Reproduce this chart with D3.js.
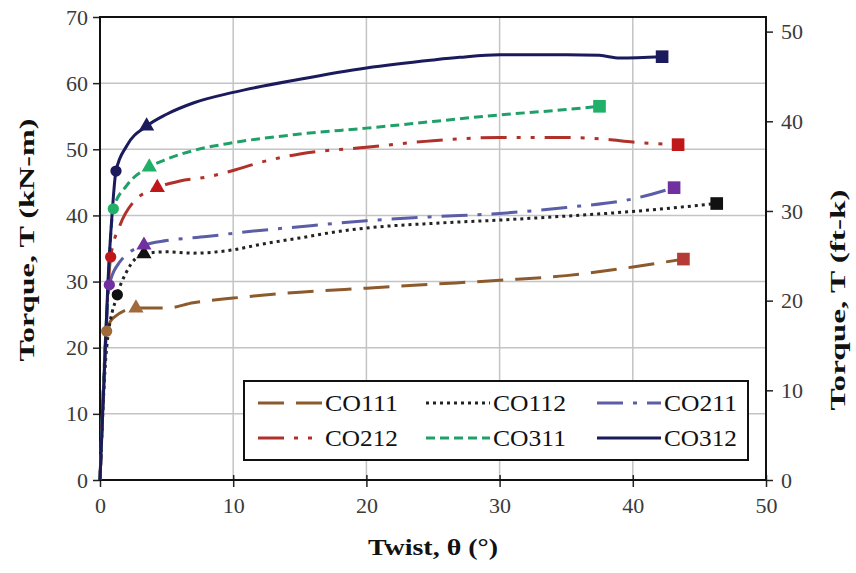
<!DOCTYPE html>
<html>
<head>
<meta charset="utf-8">
<script src="https://cdn.jsdelivr.net/npm/d3@7"></script>
<style>
  body { margin: 0; background: #fff; }
  svg { display: block; }
</style>
</head>
<body>
<svg id="chart" width="856" height="573"></svg>
<script>
// Values.
const names = ["CO111", "CO112", "CO211", "CO212", "CO311", "CO312"];

const twist111 = [0, 0.3, 0.5, 1, 2.7, 5, 7, 10, 15, 20, 25, 30, 35, 40, 43.8];
const torque111 = [0, 15, 22.5, 24.5, 26, 26, 26.8, 27.5, 28.4, 29, 29.6, 30.2, 30.9, 32.2, 33.4];

const twist112 = [0, 0.5, 1.3, 2, 3.3, 5, 7, 10, 12, 15, 18, 20, 25, 30, 35, 40, 46.3];
const torque112 = [0, 20, 28, 31.5, 34.2, 34.5, 34.3, 34.8, 35.6, 36.6, 37.6, 38.1, 38.8, 39.3, 39.9, 40.6, 41.8];

const twist211 = [0, 0.4, 0.7, 1.5, 3.3, 5, 8, 10, 15, 20, 25, 30, 35, 40, 43.1];
const torque211 = [0, 20, 29.5, 33, 35.5, 36.2, 36.8, 37.3, 38.3, 39.2, 39.8, 40.3, 41.2, 42.5, 44.2];

const twist212 = [0, 0.5, 0.8, 1.5, 2.5, 4.3, 6, 8, 10, 12, 15, 20, 25, 30, 35, 38, 40, 43.4];
const torque212 = [0, 25, 33.7, 38.5, 42, 44.2, 45.2, 45.8, 46.8, 48, 49.3, 50.3, 51.3, 51.8, 51.8, 51.5, 51.1, 50.7];

const twist311 = [0, 0.5, 1, 2, 3.7, 5, 7, 10, 15, 20, 25, 30, 35, 37.5];
const torque311 = [0, 25, 41, 44.5, 47.3, 48.5, 49.8, 51, 52.3, 53.2, 54.2, 55.2, 56, 56.5];

const twist312 = [0, 0.3, 0.6, 0.9, 1.2, 2, 3.5, 5, 7, 10, 15, 20, 25, 27, 30, 35, 37.5, 39, 42.2];
const torque312 = [0, 15, 30, 40, 46.7, 50.5, 53.5, 55.3, 57, 58.6, 60.6, 62.3, 63.5, 63.9, 64.3, 64.3, 64.2, 63.8, 64];

// index of the circle and triangle markers in each series (square is the last point)
const circleIdx = [2, 2, 2, 2, 2, 4];
const triangleIdx = [4, 4, 4, 5, 4, 6];

const xTicks = [0, 10, 20, 30, 40, 50];
const yTicks = [0, 10, 20, 30, 40, 50, 60, 70];
const yRightTicks = [0, 10, 20, 30, 40, 50];
const kNmToFtk = 0.737562;

// Styles
const lineColors = ["#8c5a2c", "#222222", "#5b5ea6", "#b0302a", "#20a068", "#1a1a5c"];
const markerColors = ["#a06a3a", "#111111", "#7030a0", "#c01818", "#20b068", "#1a1a5c"];
const squareColors = ["#b53c36", "#111111", "#7030a0", "#c01818", "#20b068", "#1a1a5c"];
const dashes = ["26,12", "3,4", "26,10,4,10", "26,10,4,10,4,10", "9,5", null];

const series = [
  [twist111, torque111], [twist112, torque112], [twist211, torque211],
  [twist212, torque212], [twist311, torque311], [twist312, torque312]
].map((s, i) => ({
  name: names[i],
  points: s[0].map((t, j) => [t, s[1][j]]),
  color: lineColors[i],
  marker: markerColors[i],
  square: squareColors[i],
  dash: dashes[i],
  ci: circleIdx[i],
  ti: triangleIdx[i]
}));

const svg = d3.select("#chart");
const plotLeft = 100, plotRight = 766, plotTop = 17, plotBottom = 480;

const x = d3.scaleLinear().domain([0, 50]).range([plotLeft, plotRight]);
const y = d3.scaleLinear().domain([0, 70]).range([plotBottom, plotTop]);
const yR = d3.scaleLinear().domain([0, 70 * kNmToFtk]).range([plotBottom, plotTop]);

const serif = "'Liberation Serif', 'Times New Roman', serif";

// Gridlines
svg.append("g")
  .selectAll("line")
  .data(yTicks)
  .join("line")
  .attr("x1", plotLeft).attr("x2", plotRight)
  .attr("y1", d => y(d)).attr("y2", d => y(d))
  .attr("stroke", "#c4c4c4").attr("stroke-width", 1.5);

svg.append("g")
  .selectAll("line")
  .data(xTicks.slice(1, -1))
  .join("line")
  .attr("x1", d => x(d)).attr("x2", d => x(d))
  .attr("y1", plotTop).attr("y2", plotBottom)
  .attr("stroke", "#c4c4c4").attr("stroke-width", 1.5);

// Axes
const xAxis = svg.append("g")
  .attr("transform", `translate(0,${plotBottom})`)
  .call(d3.axisBottom(x).tickValues(xTicks).tickSize(7).tickPadding(10));
const yAxis = svg.append("g")
  .attr("transform", `translate(${plotLeft},0)`)
  .call(d3.axisLeft(y).tickValues(yTicks).tickSize(7).tickPadding(5));
const yAxisR = svg.append("g")
  .attr("transform", `translate(${plotRight},0)`)
  .call(d3.axisRight(yR).tickValues(yRightTicks).tickSize(7).tickPadding(8));

[xAxis, yAxis, yAxisR].forEach(g => {
  g.select(".domain").remove();
  g.selectAll(".tick line").attr("stroke", "#222").attr("stroke-width", 1.5);
  g.selectAll(".tick text")
    .attr("font-family", serif)
    .attr("font-size", 22)
    .attr("fill", "#3a3a3a");
});
// x ticks cross the axis a little
xAxis.selectAll(".tick line").attr("y1", -5);

// Plot frame
svg.append("rect")
  .attr("x", plotLeft).attr("y", plotTop)
  .attr("width", plotRight - plotLeft).attr("height", plotBottom - plotTop)
  .attr("fill", "none").attr("stroke", "#111").attr("stroke-width", 2);

// Lines
const line = d3.line()
  .x(d => x(d[0]))
  .y(d => y(d[1]))
  .curve(d3.curveMonotoneX);

const plot = svg.append("g");
plot.selectAll("path.series")
  .data(series)
  .join("path")
  .attr("class", "series")
  .attr("d", d => line(d.points))
  .attr("fill", "none")
  .attr("stroke", d => d.color)
  .attr("stroke-width", 3)
  .attr("stroke-dasharray", d => d.dash);

// Markers
const tri = d3.symbol().type(d3.symbolTriangle).size(100);
const circ = d3.symbol().type(d3.symbolCircle).size(100);
const sq = d3.symbol().type(d3.symbolSquare).size(160);

series.forEach(s => {
  const pc = s.points[s.ci], pt = s.points[s.ti], ps = s.points[s.points.length - 1];
  plot.append("path").attr("d", circ)
    .attr("transform", `translate(${x(pc[0])},${y(pc[1])})`)
    .attr("fill", s.marker);
  plot.append("path").attr("d", tri)
    .attr("transform", `translate(${x(pt[0])},${y(pt[1])})`)
    .attr("fill", s.marker);
  plot.append("path").attr("d", sq)
    .attr("transform", `translate(${x(ps[0])},${y(ps[1])})`)
    .attr("fill", s.square);
});

// Legend
const legend = svg.append("g");
legend.append("rect")
  .attr("x", 244).attr("y", 381).attr("width", 504).attr("height", 79)
  .attr("fill", "#fff").attr("stroke", "#111").attr("stroke-width", 2);

const colX = [258, 426, 597];
const rowY = [403, 438];
series.forEach((s, i) => {
  const cx = colX[i % 3], cy = rowY[Math.floor(i / 3)];
  legend.append("line")
    .attr("x1", cx).attr("x2", cx + 64)
    .attr("y1", cy).attr("y2", cy)
    .attr("stroke", s.color).attr("stroke-width", 3)
    .attr("stroke-dasharray", s.dash);
  legend.append("text")
    .attr("x", cx + 67).attr("y", cy + 8)
    .attr("font-family", serif).attr("font-size", 24)
    .attr("textLength", 73).attr("lengthAdjust", "spacingAndGlyphs")
    .attr("fill", "#111")
    .text(s.name);
});

// Axis titles
svg.append("text")
  .attr("x", (plotLeft + plotRight) / 2).attr("y", 555)
  .attr("text-anchor", "middle")
  .attr("font-family", serif).attr("font-size", 23).attr("font-weight", "bold")
  .attr("textLength", 130).attr("lengthAdjust", "spacingAndGlyphs")
  .attr("fill", "#111")
  .text("Twist, θ (°)");

svg.append("text")
  .attr("transform", "translate(34,240) rotate(-90)")
  .attr("text-anchor", "middle")
  .attr("font-family", serif).attr("font-size", 22).attr("font-weight", "bold")
  .attr("textLength", 243).attr("lengthAdjust", "spacingAndGlyphs")
  .attr("fill", "#111")
  .text("Torque,  T (kN-m)");

svg.append("text")
  .attr("transform", "translate(845,300) rotate(-90)")
  .attr("text-anchor", "middle")
  .attr("font-family", serif).attr("font-size", 22).attr("font-weight", "bold")
  .attr("textLength", 221).attr("lengthAdjust", "spacingAndGlyphs")
  .attr("fill", "#111")
  .text("Torque,  T (ft-k)");
</script>
</body>
</html>
